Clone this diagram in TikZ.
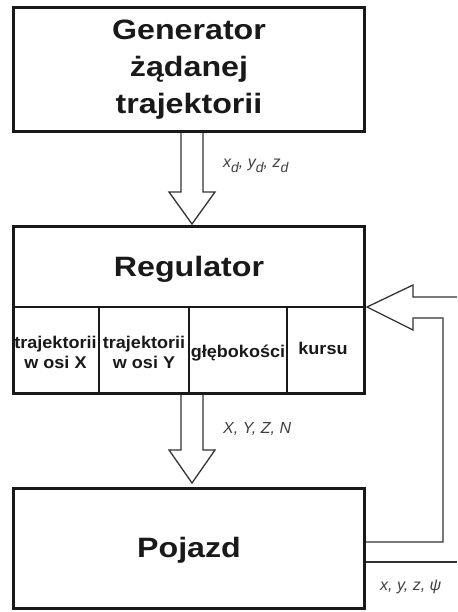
\documentclass[tikz,border=0pt]{standalone}
\usepackage{fontspec}
\setmainfont{Liberation Sans}
\usepackage{graphicx}
\usetikzlibrary{calc}
\tikzset{
 blk/.style={draw=black!90, line width=3pt, inner sep=0pt, fill=white},
 cellline/.style={draw=black!90, line width=1.8pt},
 hollow/.style={draw=black!80, line width=1.3pt, line join=miter},
 title/.style={font=\fontsize{28}{37}\selectfont\bfseries, text=black!90, inner sep=0pt},
 cell/.style={font=\fontsize{17}{20}\selectfont\bfseries, text=black!90, inner sep=0pt},
 lab/.style={font=\fontsize{16}{18}\selectfont\itshape, text=black!75, inner sep=0pt},
}
\newcommand{\wx}[1]{\scalebox{1.15}[1]{#1}}
\newcommand{\wc}[1]{\scalebox{1.06}[1]{#1}}
\newcommand{\lowsub}[1]{\raisebox{-5pt}{\fontsize{14}{14}\selectfont #1}}
\begin{document}
\begin{tikzpicture}[x=1pt,y=-1pt]
\useasboundingbox (0,0) rectangle (457,612);
\fill[white] (0,0) rectangle (457,612);
% Generator
\node[blk, minimum width=351pt, minimum height=124pt] (gen) at (189,69.5) {};
\node[title] (gentxt) at (gen.center) {\wx{\begin{tabular}{@{}c@{}}Generator\\żądanej\\trajektorii\end{tabular}}};
% Regulator
\node[blk, minimum width=351pt, minimum height=167pt] (reg) at (189,310) {};
\draw[cellline] (13.5,307) -- (364.5,307);
\draw[cellline] (99,307) -- (99,393.5);
\draw[cellline] (189,307) -- (189,393.5);
\draw[cellline] (287,307) -- (287,393.5);
\node[title, anchor=base] (regtxt) at (189,276.5) {\wx{Regulator}};
\node[cell] (c1) at (55.5,354) {\wc{\begin{tabular}{@{}c@{}}trajektorii\\w osi X\end{tabular}}};
\node[cell] (c2) at (144,354) {\wc{\begin{tabular}{@{}c@{}}trajektorii\\w osi Y\end{tabular}}};
\node[cell, anchor=base] (c3) at (238,357) {\wc{głębokości}};
\node[cell, anchor=base] (c4) at (323,354) {\wc{kursu}};
% Pojazd
\node[blk, minimum width=351pt, minimum height=120pt] (poj) at (189,548.5) {};
\node[title, anchor=base] (pojtxt) at (189,557) {\wx{Pojazd}};
% arrow generator -> regulator
\draw[hollow] ($(gen.south)+(-8,0)$) -- ($(gen.south)+(-8,59)$) -- ($(gen.south)+(-20,59)$)
  -- ($(reg.north)+(3,-1)$) -- ($(gen.south)+(26,59)$) -- ($(gen.south)+(14,59)$) -- ($(gen.south)+(14,0)$);
% arrow regulator -> pojazd
\draw[hollow] ($(reg.south)+(-8,0)$) -- ($(reg.south)+(-8,55)$) -- ($(reg.south)+(-20,55)$)
  -- ($(poj.north)+(3,-4)$) -- ($(reg.south)+(26,55)$) -- ($(reg.south)+(14,55)$) -- ($(reg.south)+(14,0)$);
% feedback arrow
\coordinate (edgeTop) at (457,297);
\coordinate (edgeBot) at (457,562);
\draw[hollow] (edgeTop) -- (413,297) -- (413,285) -- ($(reg.east)+(1,-3)$) -- (413,330) -- (413,318)
  -- (443,318) -- (443,542) -- ($(poj.east)+(0,-6.5)$);
\draw[hollow] ($(poj.east)+(0,13.5)$) -- (edgeBot);
% labels
\node[lab, anchor=base west] (xd) at (223,168) {x\lowsub{d}, y\lowsub{d}, z\lowsub{d}};
\node[lab, anchor=base west] (XYZN) at (223,433) {X, Y, Z, N};
\node[lab, anchor=base west] (xyzpsi) at (380,590) {x, y, z, ψ};
\end{tikzpicture}
\end{document}
